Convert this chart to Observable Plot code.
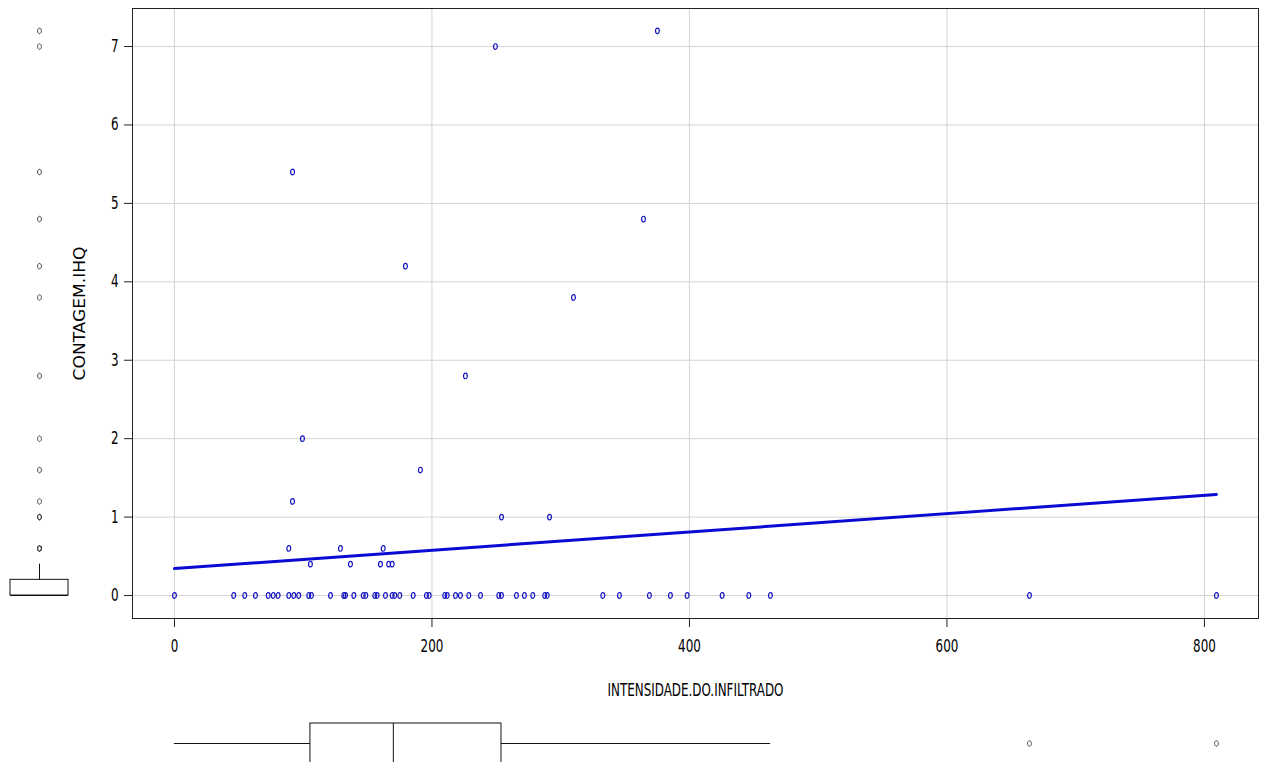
<!DOCTYPE html>
<html><head><meta charset="utf-8">
<script src="https://cdn.jsdelivr.net/npm/d3@7"></script>
<script src="https://cdn.jsdelivr.net/npm/@observablehq/plot@0.6"></script>
<style>
html,body{margin:0;padding:0;background:#fff;overflow:hidden}
#wrap{position:relative;width:1265px;height:762px;overflow:hidden}
#wrap svg{position:absolute;left:0}
</style></head><body><div id="wrap"></div>
<script>
// INTENSIDADE.DO.INFILTRADO (x) and CONTAGEM.IHQ (y)
const intensidade = [
  0, 46, 54.6, 62.9, 72.8, 76.7, 80.5, 88.8, 92.7, 96.5, 104.3, 106.4, 121.2, 131.5, 132.8,
  139.3, 146.6, 148.6, 155.6, 157.4, 163.9, 169.1, 171.1, 175, 185.4, 195.7, 197.8, 209.9,
  211.8, 218.3, 222.1, 228.6, 237.7, 251.9, 254, 265.6, 271.8, 278.3, 287.6, 289.5, 332.7,
  345.6, 368.9, 385.2, 398.2, 425.4, 446.1, 462.9, 664.1, 809.3,
  249.3, 375.1, 91.7, 364.3, 179.4, 309.9, 226, 99.4, 191, 91.7, 254, 291.3,
  88.8, 128.9, 162.1, 105.6, 136.7, 160, 166.4, 169.1
];
const contagem = [
  0, 0, 0, 0, 0, 0, 0, 0, 0, 0, 0, 0, 0, 0, 0,
  0, 0, 0, 0, 0, 0, 0, 0, 0, 0, 0, 0, 0,
  0, 0, 0, 0, 0, 0, 0, 0, 0, 0, 0, 0, 0,
  0, 0, 0, 0, 0, 0, 0, 0, 0,
  7.0, 7.2, 5.4, 4.8, 4.2, 3.8, 2.8, 2.0, 1.6, 1.2, 1.0, 1.0,
  0.6, 0.6, 0.6, 0.4, 0.4, 0.4, 0.4, 0.4
];
const xTicks = [0, 200, 400, 600, 800];
const yTicks = [0, 1, 2, 3, 4, 5, 6, 7];
const xLabel = "INTENSIDADE.DO.INFILTRADO";
const yLabel = "CONTAGEM.IHQ";
// fitted regression line endpoints
const fitX = [0, 809.3];
const fitY = [0.344, 1.288];
// box plot statistics: [lower whisker, q1, median, q3, upper whisker]
const xBox = [0, 105.6, 170, 254, 463];
const yBox = [0, 0, 0, 0.2, 0.4];

const points = intensidade.map((x, i) => ({x, y: contagem[i]}));
const fit = fitX.map((x, i) => ({x, y: fitY[i]}));

const XD = [-32.6, 842];
const YD = [-0.293, 7.485];
const FONT = '"Liberation Sans Narrow","Arial Narrow","DejaVu Sans Condensed",sans-serif';

// small open ellipse, like the squeezed R pch=1 circle
const ellipse = {
  draw(ctx) {
    const rx = 1.9, ry = 2.8, k = 0.5523;
    ctx.moveTo(rx, 0);
    ctx.bezierCurveTo(rx, ry * k, rx * k, ry, 0, ry);
    ctx.bezierCurveTo(-rx * k, ry, -rx, ry * k, -rx, 0);
    ctx.bezierCurveTo(-rx, -ry * k, -rx * k, -ry, 0, -ry);
    ctx.bezierCurveTo(rx * k, -ry, rx, -ry * k, rx, 0);
    ctx.closePath();
  }
};

const wrap = document.getElementById("wrap");

const main = Plot.plot({
  width: 1265, height: 762,
  marginLeft: 132, marginRight: 7, marginTop: 8, marginBottom: 144,
  style: {fontFamily: FONT, fontSize: "17px", color: "black", background: "transparent"},
  x: {domain: XD},
  y: {domain: YD},
  marks: [
    Plot.gridX(xTicks, {stroke: "#d4d4d4", strokeOpacity: 1}),
    Plot.gridY(yTicks, {stroke: "#d4d4d4", strokeOpacity: 1}),
    Plot.dot(points, {x: "x", y: "y", symbol: ellipse, stroke: "#1414c0", strokeWidth: 1.2}),
    Plot.line(fit, {x: "x", y: "y", stroke: "#0a0ad2", strokeWidth: 3}),
    Plot.frame({stroke: "#222"}),
    Plot.axisX(xTicks, {tickSize: 9, tickPadding: 12, tickFormat: d => String(d), label: null, stroke: "#222"}),
    Plot.axisY(yTicks, {tickSize: 8, tickPadding: 6, tickFormat: d => String(d), label: null, stroke: "#222"}),
    Plot.text([xLabel], {text: d => d, frameAnchor: "bottom", textAnchor: "middle", lineAnchor: "middle", dy: 72, fontSize: 17}),
    Plot.text([yLabel], {text: d => d, frameAnchor: "left", textAnchor: "middle", lineAnchor: "middle", rotate: -90, dx: -52, fontSize: 19})
  ]
});
main.style.top = "0px";
// narrow the lettering like the horizontally squeezed original
main.querySelectorAll("text").forEach(t => {
  const tr = t.getAttribute("transform");
  if (tr == null) return;
  t.setAttribute("transform", tr + (tr.includes("rotate") ? " scale(1,0.8)" : " scale(0.78,1)"));
});
wrap.appendChild(main);

// marginal box plot of CONTAGEM.IHQ (left)
const left = Plot.plot({
  width: 80, height: 762,
  marginLeft: 10, marginRight: 12, marginTop: 8, marginBottom: 144,
  style: {background: "transparent"},
  x: {domain: [0, 1], axis: null},
  y: {domain: YD, axis: null},
  marks: [
    Plot.ruleX([0.5], {y1: yBox[3], y2: yBox[4], stroke: "#111"}),
    Plot.ruleX([0.5], {y1: yBox[0], y2: yBox[1], stroke: "#111"}),
    Plot.rect([yBox], {x1: 0, x2: 1, y1: d => d[1], y2: d => d[3], fill: "none", stroke: "#111"}),
    Plot.ruleY([yBox[2]], {x1: 0, x2: 1, stroke: "#111"}),
    Plot.dot(contagem.filter(v => v > yBox[4]), {x: () => 0.5, y: d => d, symbol: ellipse, stroke: "#333", strokeWidth: 0.9})
  ]
});
left.style.top = "0px";
wrap.appendChild(left);

// marginal box plot of INTENSIDADE.DO.INFILTRADO (bottom)
const bottom = Plot.plot({
  width: 1265, height: 60,
  marginLeft: 132, marginRight: 7, marginTop: 10, marginBottom: 10,
  style: {background: "transparent"},
  x: {domain: XD, axis: null},
  y: {domain: [0, 1], axis: null},
  marks: [
    Plot.ruleY([0.5], {x1: xBox[0], x2: xBox[1], stroke: "#111"}),
    Plot.ruleY([0.5], {x1: xBox[3], x2: xBox[4], stroke: "#111"}),
    Plot.rect([xBox], {x1: d => d[1], x2: d => d[3], y1: 0, y2: 1, fill: "none", stroke: "#111"}),
    Plot.ruleX([xBox[2]], {y1: 0, y2: 1, stroke: "#111"}),
    Plot.dot(intensidade.filter(v => v > xBox[4]), {x: d => d, y: () => 0.5, symbol: ellipse, stroke: "#333", strokeWidth: 0.9})
  ]
});
bottom.style.top = "713px";
wrap.appendChild(bottom);
</script></body></html>
